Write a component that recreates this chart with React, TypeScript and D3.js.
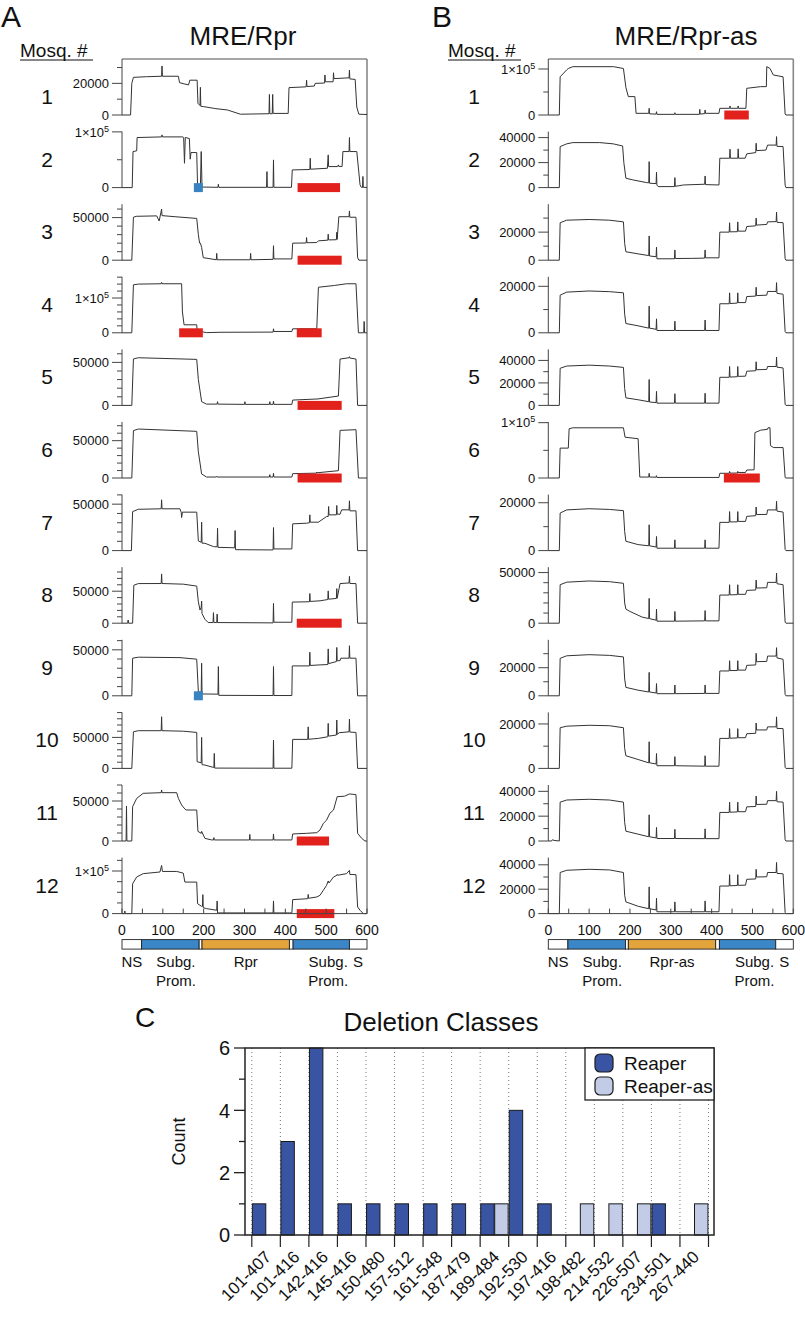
import React from 'react';
import * as d3 from 'd3';

type Pt = [number, number];

const FONT = '"Liberation Sans", Arial, Helvetica, sans-serif';

// ---------- panels A / B : coverage traces (x = position, y = reads in thousands) ----------
const mosquitoes = ['1', '2', '3', '4', '5', '6', '7', '8', '9', '10', '11', '12'];
const positionTicks = [0, 100, 200, 300, 400, 500, 600];
const positionMinorTicks = [50, 150, 250, 350, 450, 550];

const rprTrace1: Pt[] = [[0,0],[21,0],[24,20],[28,23.8],[60,24.2],[97,24.5],[98,31],[99,24.5],[138,24.5],[141,20.4],[163,19],[166,22],[184,22],[186,7.4],[191,6],[192,17.5],[193,5.5],[200,5.3],[230,4],[258,3.2],[290,0.5],[360,0.8],[361,13],[362,0.8],[368,0.8],[369,13],[370,1],[407,1],[409,17.3],[451,17.8],[452,22],[453,18],[471,18.3],[473,20],[496,20.2],[497,25.3],[498,21],[517,21],[518,26.7],[519,23],[556,23.5],[557,28.4],[558,22.8],[571,22.5],[575,5],[580,0.5],[600,0.3]];
const rprTrace2: Pt[] = [[0,0],[25,0],[27,64.7],[36,66],[37,89.8],[97,91],[98,94.6],[99,91],[149,91],[151,90],[153,43.7],[155,90],[165,88],[167,51],[169,62.9],[183,62.9],[185,5],[187,0.5],[192,0.5],[194,64.7],[196,1],[235,0.5],[236,6],[237,0.5],[354,0.5],[355,28.7],[356,0.5],[370,0.5],[371,49.7],[372,0.5],[415,0.5],[417,31.7],[460,32.5],[461,52.7],[462,33],[503,34.7],[505,58.7],[506,37.7],[528,37.7],[530,40.7],[531,38],[539,38],[541,64.7],[556,64.7],[557,89.8],[558,64.7],[575,64.7],[583,5],[586,0.5],[589,0.5],[590,20],[591,0.5],[600,0.3]];
const rprTrace3: Pt[] = [[0,0],[24,0],[28,50.4],[35,51.5],[85,52],[91,46],[97,60],[98,52.3],[130,51],[183,49],[187,30],[190,20],[192,20],[195,15],[199,3],[231,0.5],[232,8],[233,0.5],[314,0.5],[315,8],[316,0.5],[370,1],[371,17],[372,1.5],[416,1.5],[418,20],[451,20.2],[452,26.6],[453,20.5],[477,20.7],[481,22.7],[504,23.5],[505,30.5],[506,23.8],[525,24],[526,32.8],[527,24.5],[531,51],[556,51],[557,57.8],[558,50.4],[573,50.4],[577,3],[580,0],[600,0]];
const rprTrace4: Pt[] = [[0,0],[24,0],[28,138],[40,140],[96,141],[97,145],[98,141],[146,141],[148,60],[152,23],[183,23],[184,5.8],[207,0.5],[240,1.5],[370,2],[371,11.5],[372,3.8],[416,3.8],[418,11.5],[477,11.5],[481,131],[520,136],[550,141],[573,141],[579,0],[592,0],[593,32.7],[594,0],[600,0]];
const rprTrace5: Pt[] = [[0,0],[24,0],[28,54],[40,55.4],[183,53.5],[187,30],[195,4.3],[207,1.5],[233,1.5],[234,4.3],[235,1.5],[300,1.2],[301,4.3],[302,1.2],[361,1.2],[362,4.3],[363,1.2],[370,1.2],[371,5],[372,1.2],[416,1.2],[418,6.2],[480,7.5],[530,10.9],[534,53.9],[556,55.4],[557,56.6],[558,55],[573,53.9],[577,0],[600,0]];
const rprTrace6: Pt[] = [[0,0],[24,0],[28,63.4],[40,65.6],[183,62.5],[187,35],[195,5.4],[207,1.3],[231,1.3],[232,2.2],[233,1.3],[361,1.3],[362,4.5],[363,1.3],[370,1.3],[371,6.3],[372,1.3],[416,1.3],[418,5.8],[476,6.5],[477,8],[478,7],[530,9.8],[534,63.8],[573,64.7],[579,0],[600,0]];
const rprTrace7: Pt[] = [[0,0],[23,0],[26,42],[40,44.5],[96,45],[97,54.7],[98,45],[142,45],[145,41.4],[146,35.6],[148,41.4],[183,41.4],[187,10.4],[194,9],[195,30.6],[196,8],[203,7.9],[224,4.3],[233,4],[234,24],[235,3.5],[265,3.2],[276,3],[277,21.6],[278,1],[370,0.7],[371,24.8],[372,1.8],[416,1.8],[418,28.8],[452,29.5],[459,30],[460,38.5],[461,30.6],[481,30.6],[501,36.7],[505,36.7],[506,47.5],[507,38.5],[525,38.5],[526,48.6],[527,39.2],[534,39.2],[538,43.9],[556,43.9],[557,53.6],[558,42.8],[573,42.8],[577,0],[600,0]];
const rprTrace8: Pt[] = [[0,0],[14,0],[15,5],[16,0],[26,0],[29,59.3],[40,61.9],[96,62],[97,77],[98,62],[150,61],[183,58],[187,33.5],[191,20.6],[194,25],[195,34.5],[196,15],[203,6.2],[211,1],[223,1],[224,16.5],[225,1],[232,1],[233,14.4],[234,1],[370,0.5],[371,30.9],[372,1.5],[416,1.5],[417,33],[459,33.5],[460,46.4],[461,34],[485,35],[504,37],[505,50.5],[506,37.5],[525,38.7],[526,54],[527,39],[534,61.9],[556,62.9],[557,73.2],[558,62],[573,61.9],[577,0],[600,0]];
const rprTrace9: Pt[] = [[0,0],[24,0],[26,40.9],[40,42],[142,41.5],[183,39.8],[187,4.4],[194,4],[195,35.4],[196,2],[235,1.8],[236,31.8],[237,0.5],[370,0.3],[371,31.8],[372,0.3],[416,0.3],[417,32.5],[459,32.5],[460,47.4],[461,33],[485,33.6],[504,34],[505,51],[506,35],[525,37.2],[526,52.6],[527,38],[534,38.3],[536,40.9],[556,40.9],[557,54.4],[558,40.9],[573,40.9],[577,0],[600,0]];
const rprTrace10: Pt[] = [[0,0],[24,0],[28,59],[40,60.8],[96,60.8],[97,83.3],[98,60.8],[150,60],[183,58],[184,10.8],[194,9],[195,50],[196,6],[203,5.4],[224,1.6],[225,1.6],[226,24.2],[227,0.5],[370,0.3],[371,45.7],[372,0.3],[416,0.3],[418,46.8],[455,46.8],[456,67],[457,47],[481,48.4],[504,51],[505,72.6],[506,52],[525,53.8],[526,78],[527,55],[532,57.5],[556,59],[557,79.6],[558,58.5],[573,58],[577,0],[600,0]];
const rprTrace11: Pt[] = [[0,0],[10,0],[11,43.8],[12,0],[24,0],[26,42.9],[36,53.3],[52,59.6],[96,60.4],[97,63.8],[98,60.4],[134,60.4],[138,53.3],[146,45],[154,40],[157,38.75],[183,38.75],[186,12],[194,9.6],[195,12],[203,3.3],[220,1.3],[224,1.3],[225,4.2],[226,1.3],[312,1.3],[313,8.3],[314,1.3],[370,1.3],[371,8.8],[372,1.3],[416,1.3],[418,8.8],[452,9.6],[477,10.4],[485,13.8],[493,22],[501,26],[509,34.6],[518,38.75],[527,55.4],[545,56],[557,58.8],[573,58],[577,9.6],[587,3.3],[595,0],[600,0]];
const rprTrace12: Pt[] = [[0,0],[6,0],[7,6.2],[8,0],[24,0],[26,70],[36,86],[52,93.8],[93,97.7],[97,113],[99,99],[134,99],[150,95],[154,74],[183,74],[185,23.4],[195,17],[197,17],[198,44.5],[199,14],[207,11.7],[232,7.8],[233,29.7],[234,1.6],[370,1.6],[371,29.7],[372,1.6],[416,1.6],[418,32.8],[455,35],[456,45],[457,36],[477,39],[485,43],[493,54.7],[501,66.4],[505,76.6],[507,71.9],[518,86],[526,89.8],[527,92],[528,90],[550,93.8],[557,101.6],[558,92],[573,91.4],[577,15.6],[583,7.8],[591,0],[600,0]];

const rprAsTrace1: Pt[] = [[0,0],[27,0],[29,83],[45,98],[49,101],[60,105],[160,105],[184,101],[190,60],[196,40],[212,40],[215,3.6],[246,3.6],[247,14.5],[248,2.5],[264,2],[265,7.2],[266,1.4],[309,1.4],[310,5],[311,1.4],[370,1.4],[371,12.3],[372,2],[383,3],[384,10.9],[385,3.6],[418,3.6],[420,14.5],[444,14.5],[445,19.6],[446,14.5],[464,14.5],[465,19.6],[466,14.5],[484,14.5],[486,58],[520,61.6],[534,61.6],[535,105],[543,101],[551,87],[575,83],[580,2],[582,0],[600,0]];
const rprAsTrace2: Pt[] = [[0,0],[27,0],[29,32.8],[45,35],[60,36],[126,36],[159,35],[182,33.3],[185,20],[190,7.5],[208,6.1],[241,4],[246,3.8],[247,20.8],[248,3.5],[264,3.2],[265,12.3],[266,2],[269,0.8],[309,0.8],[310,8],[311,1],[331,2.1],[383,2.7],[384,9.3],[385,2.4],[418,2.1],[420,23.5],[444,23.5],[445,30.7],[446,23.5],[464,23.5],[465,31],[466,23.5],[482,23.5],[486,27],[508,28],[509,35.5],[510,29.6],[533,30],[537,34],[558,34],[559,40.8],[560,33],[575,32.8],[580,2],[582,0],[600,0]];
const rprAsTrace3: Pt[] = [[0,0],[27,0],[29,26.7],[45,28.5],[100,29],[150,28.5],[184,27.3],[187,12],[190,6],[220,4.5],[246,3.3],[247,17.3],[248,3],[264,2.5],[265,9.3],[266,1],[309,1],[310,7.3],[311,1.2],[350,1.3],[383,1.5],[384,7.3],[385,1.7],[418,1.7],[420,20],[443,20],[444,26.7],[445,20.2],[463,20.3],[464,27.3],[465,20.7],[483,20.7],[486,24],[508,24.5],[509,30],[510,25],[535,25.5],[537,27.3],[558,27.5],[559,34.3],[560,27],[575,26.7],[580,1],[582,0],[600,0]];
const rprAsTrace4: Pt[] = [[0,0],[27,0],[29,16.2],[45,17.5],[100,18],[150,17.7],[184,17.2],[187,8],[190,4],[220,3],[246,2],[247,11.5],[248,2],[264,1.5],[265,6],[266,1],[309,1],[310,5],[311,1],[383,1],[384,5.5],[385,1],[418,1],[420,12.5],[443,12.5],[444,17.2],[445,12.6],[463,12.8],[464,17.2],[465,13],[483,13],[486,15.6],[508,15.8],[509,19.6],[510,16],[535,16.2],[537,17.8],[558,17.8],[559,21.6],[560,17],[575,16.6],[580,0.5],[582,0],[600,0]];
const rprAsTrace5: Pt[] = [[0,0],[27,0],[29,33],[45,35],[100,35.8],[150,35],[184,33.8],[187,15],[190,6.7],[220,5],[246,3.3],[247,23],[248,3],[264,2.5],[265,12.5],[266,2],[309,2],[310,10.4],[311,2],[383,2],[384,10.8],[385,2],[418,2],[420,25],[443,25],[444,34.6],[445,25.2],[463,25.5],[464,34.6],[465,25.8],[483,26],[486,30.4],[508,30.8],[509,38.8],[510,31.7],[535,32],[537,34.6],[558,34.6],[559,43],[560,34],[575,33.3],[580,1],[582,0],[600,0]];
const rprAsTrace6: Pt[] = [[0,0],[27,0],[29,54],[49,54],[51,89],[60,90.7],[184,90.7],[188,73.7],[220,71],[224,1.7],[246,1.7],[247,8.5],[248,1.7],[264,1.5],[265,4.2],[266,1],[418,1],[420,8.5],[443,8.5],[444,11.9],[445,8.8],[463,9],[464,11.9],[465,10],[483,10],[486,14.4],[504,14.8],[506,82],[520,86.4],[537,88],[538,90.7],[543,90.7],[544,58.5],[552,55],[575,55],[580,1],[582,0],[600,0]];
const rprAsTrace7: Pt[] = [[0,0],[27,0],[29,15.7],[45,17],[100,17.5],[150,17.2],[184,16.7],[187,8],[190,3.9],[220,2.5],[246,2],[247,10.8],[248,2],[264,1.5],[265,5.9],[266,1],[309,1],[310,4.5],[311,1],[383,1],[384,4.5],[385,1],[418,1],[420,11.8],[443,11.8],[444,16.3],[445,12],[463,12],[464,16.3],[465,12.2],[483,12.2],[486,14.3],[508,14.6],[509,18.2],[510,15.1],[535,15.1],[537,17],[558,17],[559,20.6],[560,16.5],[575,16.1],[580,0.5],[582,0],[600,0]];
const rprAsTrace8: Pt[] = [[0,0],[27,0],[29,38],[45,40.5],[100,41.7],[150,41],[184,39.4],[187,20],[190,13.9],[200,11.6],[230,6],[246,4.6],[247,24.5],[248,4.5],[264,3],[265,13.9],[266,2],[309,2],[310,11.6],[311,2],[383,2.3],[384,12.5],[385,2.3],[418,2.3],[420,27.8],[443,27.8],[444,38],[445,28],[463,28.2],[464,38],[465,28.5],[483,28.5],[486,32.4],[508,32.8],[509,42.6],[510,34.7],[535,35],[537,40.3],[558,40.3],[559,49.5],[560,39],[575,38],[580,1],[582,0],[600,0]];
const rprAsTrace9: Pt[] = [[0,0],[27,0],[29,26.7],[45,28.5],[100,29.3],[150,28.8],[184,27.7],[187,12],[190,6],[220,4],[246,2.7],[247,16.7],[248,2.7],[264,2],[265,8.7],[266,1.5],[309,1.5],[310,7.7],[311,1.5],[383,1.7],[384,7.7],[385,1.7],[418,1.7],[420,17.7],[443,17.7],[444,25],[445,18],[463,18],[464,25],[465,18.3],[483,18.3],[486,21.7],[508,22],[509,30.3],[510,24.3],[535,24.5],[537,28.3],[558,28.3],[559,34.3],[560,27],[575,26],[580,1],[582,0],[600,0]];
const rprAsTrace10: Pt[] = [[0,0],[27,0],[29,18.3],[45,19],[100,19.4],[150,19.2],[184,18.3],[187,9],[190,5.7],[220,4],[246,2.5],[247,12],[248,2.5],[264,2],[265,6.7],[266,1.2],[309,1.2],[310,5.3],[311,1.2],[383,1],[384,5.7],[385,1],[418,1],[420,13.5],[443,13.5],[444,17.9],[445,13.6],[463,13.7],[464,17.9],[465,13.8],[483,13.8],[486,15.6],[508,15.8],[509,20.4],[510,17.3],[535,17.3],[537,18.7],[558,18.7],[559,23.2],[560,18],[575,17.9],[580,0.5],[582,0],[600,0]];
const rprAsTrace11: Pt[] = [[0,0],[8,0],[10,1],[14,0.5],[27,0],[29,31.3],[45,33],[100,33.6],[150,33],[184,31.3],[187,15],[190,7.9],[220,5.5],[246,3.4],[247,21.1],[248,3.4],[264,2.5],[265,10.9],[266,2],[309,2],[310,9.4],[311,2],[383,1.9],[384,9.8],[385,1.9],[418,1.9],[420,23],[443,23],[444,31.3],[445,23.2],[463,23.4],[464,31.3],[465,23.6],[483,23.6],[486,27.5],[508,27.8],[509,36.2],[510,29.4],[535,29.6],[537,32.5],[558,32.5],[559,40],[560,31.6],[575,31.3],[580,1],[582,0],[600,0]];
const rprAsTrace12: Pt[] = [[0,0],[27,0],[29,33.7],[45,35.5],[100,36.3],[150,35.8],[184,33.7],[187,15],[190,9.6],[220,6],[246,4],[247,21.9],[248,4],[264,3],[265,12.6],[266,1.5],[309,1.5],[310,9.6],[311,1.5],[383,1.5],[384,10.4],[385,1.5],[418,1.5],[420,22.6],[443,22.6],[444,31.9],[445,22.8],[463,23],[464,31.9],[465,23.2],[483,23.3],[486,28.1],[508,28.4],[509,36.3],[510,30],[535,30.2],[537,33.7],[558,33.7],[559,41.9],[560,33],[575,32.6],[580,1],[582,0],[600,0]];

const rprTraces = [rprTrace1, rprTrace2, rprTrace3, rprTrace4, rprTrace5, rprTrace6, rprTrace7, rprTrace8, rprTrace9, rprTrace10, rprTrace11, rprTrace12];
const rprAsTraces = [rprAsTrace1, rprAsTrace2, rprAsTrace3, rprAsTrace4, rprAsTrace5, rprAsTrace6, rprAsTrace7, rprAsTrace8, rprAsTrace9, rprAsTrace10, rprAsTrace11, rprAsTrace12];

// y axes (thousands): top of axis, tick step, labelled ticks
const rprYMax = [35.4, 100.5, 65.7, 161, 65.1, 75, 60.3, 87.5, 60.9, 90.3, 70, 131.5];
const rprTickStep = [10, 50, 10, 20, 10, 10, 10, 10, 10, 10, 10, 25];
const rprTickLabels = [[0, 20], [0, 100], [0, 50], [0, 100], [0, 50], [0, 50], [0, 50], [0, 50], [0, 50], [0, 50], [0, 50], [0, 100]];
const rprAsYMax = [121.7, 44.8, 39.9, 24.1, 49.8, 101.2, 23.4, 55.3, 39.9, 25.2, 45.1, 45.9];
const rprAsTickStep = [50, 10, 10, 10, 10, 50, 10, 10, 10, 10, 10, 10];
const rprAsTickLabels = [[0, 100], [0, 20, 40], [0, 20], [0, 20], [0, 20, 40], [0, 100], [0, 20], [0, 50], [0, 20], [0, 20], [0, 20, 40], [0, 20, 40]];

// deletions (red) and point deletions (blue)
const rprDeletions: Pt[][] = [[], [[430, 534]], [[430, 538]], [[140, 198], [428, 489]], [[430, 538]], [[430, 538]], [], [[428, 538]], [], [], [[428, 507]], [[428, 520]]];
const rprPointDeletions: (number | null)[] = [null, 187, null, null, null, null, null, null, 187, null, null, null];
const rprAsDeletions: Pt[][] = [[[431, 491]], [], [], [], [], [[430, 518]], [], [], [], [], [], []];
const rprAsPointDeletions: (number | null)[] = [null, null, null, null, null, null, null, null, null, null, null, null];

// construct map
const segStart = [0, 48, 189, 196, 410, 419, 557];
const segEnd = [48, 189, 196, 410, 419, 557, 600];
const segKind = ['none', 'prom', 'none', 'gene', 'none', 'prom', 'none'];
const mapLabelPos = [24, 132, 303, 505, 578];

// ---------- panel C : deletion classes ----------
const deletionClasses = ['101-407', '101-416', '142-416', '145-416', '150-480', '157-512', '161-548', '187-479', '189-484', '192-530', '197-416', '198-482', '214-532', '226-507', '234-501', '267-440'];
const reaperCounts = [1, 3, 6, 1, 1, 1, 1, 1, 1, 4, 1, 0, 0, 0, 1, 0];
const reaperAsCounts = [0, 0, 0, 0, 0, 0, 0, 0, 1, 0, 0, 1, 1, 1, 0, 1];
const seriesNames = ['Reaper', 'Reaper-as'];
const countTicks = [0, 2, 4, 6];
const countMinorTicks = [1, 3, 5];

// ---------- layout ----------
const ROW0 = 115;
const ROW_GAP = 72.6;
const ROW_H = 56;
const FRAME_TOP = ROW0 - ROW_H;
const AXIS_Y = ROW0 + 11 * ROW_GAP;
const TRACE = '#333';
const AXIS = '#444';
const kindFill: Record<string, string> = { none: '#ffffff', prom: '#3b86c6', gene: '#e3a43c' };
const seriesFill = ['#3a54a4', '#c2cce6'];

function tickText(t: number) {
  if (t === 0) return '0';
  if (t >= 100) {
    return (
      <>
        1×10<tspan dy={-5} fontSize={9}>5</tspan>
      </>
    );
  }
  return String(t * 1000);
}

interface PanelProps {
  letter: string;
  letterX: number;
  title: string;
  titleX: number;
  mosqX: number;
  labelX: number;
  x0: number;
  x1: number;
  traces: Pt[][];
  yMax: number[];
  steps: number[];
  labels: number[][];
  deletions: Pt[][];
  points: (number | null)[];
  geneName: string;
}

const Panel: React.FC<PanelProps> = (p) => {
  const x = d3.scaleLinear().domain([0, 600]).range([p.x0, p.x1]);
  const mapTop = AXIS_Y + 26;
  const mapH = 9.5;
  const mapLines = [['NS'], ['Subg.', 'Prom.'], [p.geneName], ['Subg.', 'Prom.'], ['S']];

  return (
    <g fontFamily={FONT} fill="#111">
      <text x={p.letterX} y={27} fontSize={30}>{p.letter}</text>
      <text x={p.titleX} y={45} fontSize={26} textAnchor="middle">{p.title}</text>
      <text x={p.mosqX} y={57} fontSize={19}>Mosq. #</text>
      <line x1={p.mosqX} x2={p.mosqX + 73} y1={60} y2={60} stroke="#111" strokeWidth={1.2} />

      {/* frame */}
      <line x1={p.x0} x2={p.x1} y1={FRAME_TOP} y2={FRAME_TOP} stroke="#888" strokeWidth={1.3} />
      <line x1={p.x1} x2={p.x1} y1={FRAME_TOP} y2={AXIS_Y} stroke="#888" strokeWidth={1.6} />

      {p.traces.map((tr, i) => {
        const zero = ROW0 + i * ROW_GAP;
        const y = d3.scaleLinear().domain([0, p.yMax[i]]).range([zero, zero - ROW_H]);
        const line = d3.line<Pt>().x((d) => x(d[0])).y((d) => y(d[1]));
        const ticks = d3.range(0, p.yMax[i] + 1e-6, p.steps[i]);
        return (
          <g key={i}>
            <text x={p.labelX} y={zero - (i === 0 ? 11 : 21)} fontSize={21} textAnchor="middle">{mosquitoes[i]}</text>
            <line x1={p.x0} x2={p.x0} y1={zero} y2={zero - ROW_H} stroke={AXIS} strokeWidth={1} />
            {ticks.map((t) => {
              const major = p.labels[i].includes(t);
              return <line key={t} x1={p.x0 - (major ? 10 : 5)} x2={p.x0} y1={y(t)} y2={y(t)} stroke={AXIS} strokeWidth={1} />;
            })}
            {p.labels[i].map((t) => (
              <text key={t} x={p.x0 - 13} y={y(t)} dy="0.36em" fontSize={13} textAnchor="end">{tickText(t)}</text>
            ))}
            <path d={line(tr) || ''} fill="none" stroke={TRACE} strokeWidth={1} strokeLinejoin="round" />
            {p.deletions[i].map((d, j) => (
              <rect key={j} x={x(d[0])} y={zero - 4.5} width={x(d[1]) - x(d[0])} height={9} fill="#e2211c" />
            ))}
            {p.points[i] !== null && (
              <rect x={x(p.points[i] as number) - 4.5} y={zero - 4.5} width={9} height={9} fill="#3a83c3" />
            )}
          </g>
        );
      })}

      {/* position axis */}
      <line x1={p.x0} x2={p.x1} y1={AXIS_Y} y2={AXIS_Y} stroke={AXIS} strokeWidth={1} />
      {[...positionTicks, ...positionMinorTicks].map((t) => (
        <line key={t} x1={x(t)} x2={x(t)} y1={AXIS_Y} y2={AXIS_Y - 5} stroke={AXIS} strokeWidth={1} />
      ))}
      {positionTicks.map((t) => (
        <text key={t} x={x(t)} y={AXIS_Y + 21} fontSize={14} textAnchor="middle">{t}</text>
      ))}

      {/* construct map */}
      {segStart.map((s, k) => (
        <rect key={k} x={x(s)} y={mapTop} width={x(segEnd[k]) - x(s)} height={mapH} fill={kindFill[segKind[k]]} stroke="#222" strokeWidth={0.9} />
      ))}
      {mapLabelPos.map((pos, k) => (
        <text key={k} x={x(pos)} y={mapTop + 27} fontSize={15} textAnchor="middle">
          {mapLines[k].map((s, j) => (
            <tspan key={j} x={x(pos)} dy={j === 0 ? 0 : 19}>{s}</tspan>
          ))}
        </text>
      ))}
    </g>
  );
};

const DeletionChart: React.FC = () => {
  const left = 245, right = 714, top = 1048, bottom = 1235;
  const y = d3.scaleLinear().domain([0, 6]).range([bottom, top]);
  const xb = d3.scaleBand<string>().domain(deletionClasses).range([251.8, 708.5]).paddingInner(0).paddingOuter(0);
  const xs = d3.scaleBand<string>().domain(seriesNames).range([0, xb.bandwidth()]).paddingInner(0.04).paddingOuter(0.04);
  const bounds = d3.range(deletionClasses.length + 1).map((k) => 251.8 + k * xb.bandwidth());
  const series = [reaperCounts, reaperAsCounts];

  return (
    <g fontFamily={FONT} fill="#111">
      <text x={135} y={1027} fontSize={28}>C</text>
      <text x={441} y={1031} fontSize={26} textAnchor="middle">Deletion Classes</text>
      <text transform={`translate(185,${(top + bottom) / 2}) rotate(-90)`} fontSize={18} textAnchor="middle">Count</text>

      {bounds.map((b, k) => (
        <line key={k} x1={b} x2={b} y1={top} y2={bottom} stroke="#777" strokeWidth={1} strokeDasharray="1 3" />
      ))}

      {series.map((vals, s) =>
        deletionClasses.map((c, k) =>
          vals[k] > 0 ? (
            <rect key={`${s}-${k}`} x={(xb(c) as number) + (xs(seriesNames[s]) as number)} y={y(vals[k])} width={xs.bandwidth()} height={y(0) - y(vals[k])} fill={seriesFill[s]} stroke="#1a1a1a" strokeWidth={1} />
          ) : null
        )
      )}

      {/* frame & axes */}
      <rect x={left} y={top} width={right - left} height={bottom - top} fill="none" stroke="#222" strokeWidth={1.5} />
      {countTicks.map((t) => (
        <g key={t}>
          <line x1={left - 11} x2={left} y1={y(t)} y2={y(t)} stroke="#222" strokeWidth={1.3} />
          <text x={230} y={y(t)} dy="0.36em" fontSize={20} textAnchor="end">{t}</text>
        </g>
      ))}
      {countMinorTicks.map((t) => (
        <line key={t} x1={left - 6} x2={left} y1={y(t)} y2={y(t)} stroke="#222" strokeWidth={1.3} />
      ))}
      {bounds.map((b, k) => (
        <line key={k} x1={b} x2={b} y1={bottom} y2={bottom + 12} stroke="#222" strokeWidth={1.2} />
      ))}
      {deletionClasses.map((c) => {
        const cx = (xb(c) as number) + xb.bandwidth() / 2 + 6;
        return (
          <text key={c} transform={`translate(${cx},1258) rotate(-45)`} fontSize={17} textAnchor="end">{c}</text>
        );
      })}

      {/* legend */}
      <rect x={585} y={top} width={right - 585} height={52} fill="#fff" stroke="#222" strokeWidth={1.3} />
      {seriesNames.map((n, s) => (
        <g key={n}>
          <rect x={595} y={1054 + s * 23} width={18} height={18} rx={5} fill={seriesFill[s]} stroke="#1a1a1a" strokeWidth={1.2} />
          <text x={624} y={1069.5 + s * 23} fontSize={19}>{n}</text>
        </g>
      ))}
    </g>
  );
};

export default function App() {
  return (
    <svg width={805} height={1320} viewBox="0 0 805 1320" style={{ position: 'absolute', left: 0, top: 0, background: '#fff' }}>
      <rect width={805} height={1320} fill="#fff" />
      <Panel letter="A" letterX={1} title="MRE/Rpr" titleX={243} mosqX={20} labelX={47} x0={122} x1={367}
        traces={rprTraces} yMax={rprYMax} steps={rprTickStep} labels={rprTickLabels}
        deletions={rprDeletions} points={rprPointDeletions} geneName="Rpr" />
      <Panel letter="B" letterX={432} title="MRE/Rpr-as" titleX={686} mosqX={448} labelX={474} x0={548.3} x1={793.3}
        traces={rprAsTraces} yMax={rprAsYMax} steps={rprAsTickStep} labels={rprAsTickLabels}
        deletions={rprAsDeletions} points={rprAsPointDeletions} geneName="Rpr-as" />
      <DeletionChart />
    </svg>
  );
}
